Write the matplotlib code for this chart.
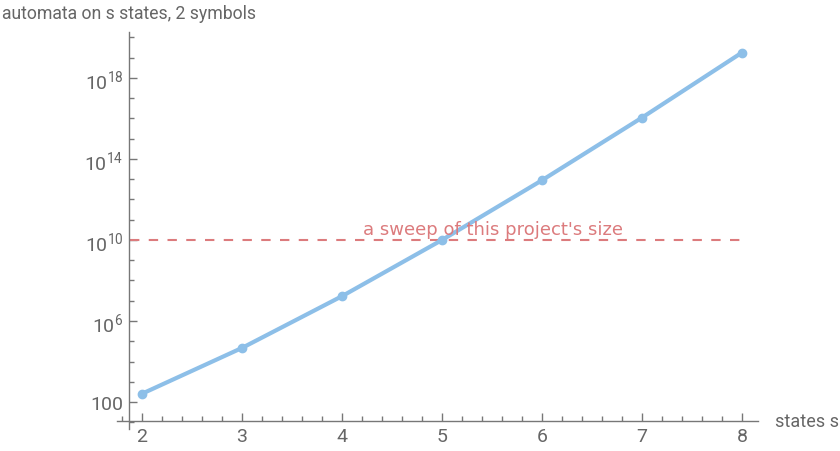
import matplotlib
matplotlib.use("Agg")
import matplotlib.pyplot as plt
import numpy as np
from matplotlib.ticker import FixedLocator, FixedFormatter

# values
states = [2, 3, 4, 5, 6, 7, 8]
automata = [256, 4.67e4, 1.68e7, 1.0e10, 8.9e12, 1.1e16, 1.8e19]
sweepSize = 1e10
sweepLabel = "a sweep of this project's size"
yMajor = [1e2, 1e6, 1e10, 1e14, 1e18]
yMajorLabels = ["100", r"$10^{6}$", r"$10^{10}$", r"$10^{14}$", r"$10^{18}$"]

textColor = "#666666"
axisColor = "#777777"
lineColor = "#8dbfe8"
sweepColor = "#dc7b7d"

plt.rcParams["font.family"] = ["Roboto", "DejaVu Sans"]
plt.rcParams["mathtext.fontset"] = "custom"
plt.rcParams["mathtext.rm"] = "Roboto"
plt.rcParams["mathtext.it"] = "Roboto"

W, H = 840, 452
fig = plt.figure(figsize=(W / 100, H / 100), dpi=100)
left, right, top, bottom = 117, 758, 33, 430
ax = fig.add_axes([left / W, 1 - bottom / H, (right - left) / W, (bottom - top) / H])

ax.set_xlim(1.75, 8.16)
ax.set_yscale("log")
ax.set_ylim(10 ** 0.667, 10 ** 20.27)

ax.plot(states, automata, color=lineColor, linewidth=3, marker="o", markersize=6,
        solid_capstyle="round", zorder=3)
ax.plot([1.88, 8.0], [sweepSize, sweepSize], color=sweepColor, linewidth=1.5,
        linestyle=(0, (4.5, 4.5)), zorder=2)
ax.text(5.51, sweepSize * 10 ** 0.12, sweepLabel, color=sweepColor, fontsize=13,
        family="DejaVu Sans", ha="center", va="bottom")

for s in ["top", "right"]:
    ax.spines[s].set_visible(False)
ax.spines["left"].set_position(("data", 1.87))
ax.spines["bottom"].set_position(("data", 10 ** 1.06))
for s in ["left", "bottom"]:
    ax.spines[s].set_color(axisColor)
    ax.spines[s].set_linewidth(1)

ax.set_xticks(states)
ax.set_xticks(np.arange(1.8, 8.15, 0.2), minor=True)
ax.yaxis.set_major_locator(FixedLocator(yMajor))
ax.yaxis.set_major_formatter(FixedFormatter(yMajorLabels))
ax.yaxis.set_minor_locator(FixedLocator([10.0 ** k for k in range(1, 21) if k % 4 != 2]))
ax.yaxis.set_minor_formatter(FixedFormatter([]))
ax.tick_params(which="major", length=6, width=1, color=axisColor, labelcolor=textColor,
               labelsize=14, pad=4)
ax.tick_params(which="minor", length=3.5, width=1, color=axisColor)
ax.tick_params(axis="x", which="both", direction="in")
ax.tick_params(axis="y", which="both", direction="in")

fig.text(2 / W, 1 - 14 / H, "automata on s states, 2 symbols", color=textColor,
         fontsize=12.7, ha="left", va="center")
fig.text(775 / W, 1 - 422 / H, "states s", color=textColor, fontsize=13,
         ha="left", va="center")

fig.savefig("out.png", dpi=100)
